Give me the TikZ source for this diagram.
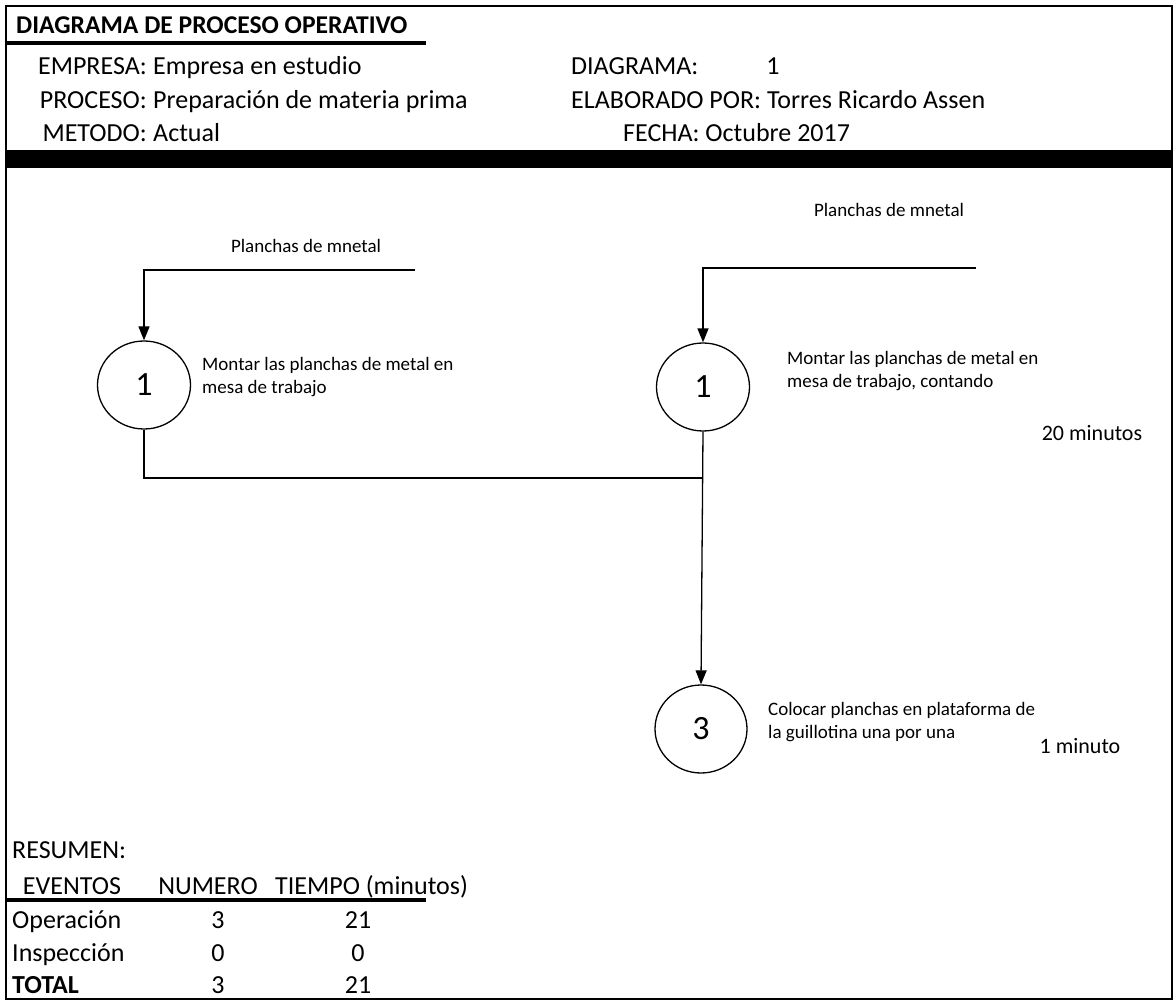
\documentclass[tikz,border=0pt]{standalone}
\usepackage{fontspec}
\setmainfont{Carlito}
\usetikzlibrary{arrows.meta,shapes.geometric}

\begin{document}
\begin{tikzpicture}[x=1pt,y=-1pt,
  hdr/.style={font=\fontsize{26}{30}\selectfont, inner sep=0pt},
  ttl/.style={font=\fontsize{25.6}{30}\selectfont\bfseries, inner sep=0pt},
  small/.style={font=\fontsize{19}{22.5}\selectfont, inner sep=0pt},
  tlabel/.style={font=\fontsize{22}{26}\selectfont, inner sep=0pt},
  opn/.style={draw, line width=1.3pt, ellipse, minimum width=93pt, minimum height=88pt,
              inner sep=0pt, font=\fontsize{34}{38}\selectfont},
  link/.style={line width=1.3pt},
  flow/.style={line width=1.3pt, -{Triangle[length=14pt,width=11pt]}},
  rule/.style={line width=4pt}
]
\useasboundingbox (0,0) rectangle (1175,1003);

% frame and header band
\draw[line width=1.8pt] (6,6) rectangle (1172,999);
\node[ttl, anchor=base west] (title) at (16,34) {DIAGRAMA DE PROCESO OPERATIVO};
\draw[rule] (6,43) -- (426,43);

\node[hdr, anchor=base east] (lemp) at (147,75) {EMPRESA:};
\node[hdr, anchor=base west] (vemp) at (153,75) {Empresa en estudio};
\node[hdr, anchor=base east] (lpro) at (147,109) {PROCESO:};
\node[hdr, anchor=base west] (vpro) at (153,109) {Preparación de materia prima};
\node[hdr, anchor=base east] (lmet) at (147,142) {METODO:};
\node[hdr, anchor=base west] (vmet) at (153,142) {Actual};

\node[hdr, anchor=base west] (ldia) at (571,75) {DIAGRAMA:};
\node[hdr, anchor=base] (vdia) at (773,75) {1};
\node[hdr, anchor=base west] (elab) at (571,109) {ELABORADO POR: Torres Ricardo Assen};
\node[hdr, anchor=base west] (fech) at (623,142) {FECHA: Octubre 2017};

\fill (6,150) rectangle (1172,168);

% operations
\node[opn] (c1) at (144,385) {1};
\node[opn] (c2) at (703,387) {1};
\node[opn, minimum width=92pt, minimum height=88pt] (c3) at (701,729) {3};

% incoming material
\coordinate (in1) at (415,270);
\coordinate (in2) at (976,268);
\node[small] (m1) at (306,246) {Planchas de mnetal};
\node[small] (m2) at (889,210) {Planchas de mnetal};
\draw[flow] (in1) -| (c1);
\draw[flow] (in2) -| (c2);

% joining and final step
\coordinate (j) at (703,478);
\draw[link] (c1) |- (j);
\draw[flow] (c2.south) -- (c3.north);

% descriptions
\node[small, anchor=west, align=left] (d1) at (202,377) {Montar las planchas de metal en\\mesa de trabajo};
\node[small, anchor=west, align=left] (d2) at (787,371) {Montar las planchas de metal en\\mesa de trabajo, contando};
\node[small, anchor=west, align=left] (d3) at (768,722) {Colocar planchas en plataforma de\\la guillotina una por una};
\node[tlabel] (t2) at (1092,433) {20 minutos};
\node[tlabel] (t3) at (1080,746) {1 minuto};

% summary
\node[hdr, anchor=base west] (res) at (12,858) {RESUMEN:};
\node[hdr, anchor=base] (hev) at (72,894) {EVENTOS};
\node[hdr, anchor=base] (hnu) at (208,894) {NUMERO};
\node[hdr, anchor=base west] (hti) at (275,894) {TIEMPO (minutos)};
\draw[rule] (6,900) -- (426,900);
\node[hdr, anchor=base west] (r1) at (12,928) {Operación};
\node[hdr, anchor=base] (r1n) at (218,928) {3};
\node[hdr, anchor=base] (r1t) at (358,928) {21};
\node[hdr, anchor=base west] (r2) at (12,961) {Inspección};
\node[hdr, anchor=base] (r2n) at (218,961) {0};
\node[hdr, anchor=base] (r2t) at (358,961) {0};
\node[hdr, anchor=base west, font=\fontsize{26}{30}\selectfont\bfseries] (r3) at (12,993) {TOTAL};
\node[hdr, anchor=base] (r3n) at (218,993) {3};
\node[hdr, anchor=base] (r3t) at (358,993) {21};
\end{tikzpicture}
\end{document}
